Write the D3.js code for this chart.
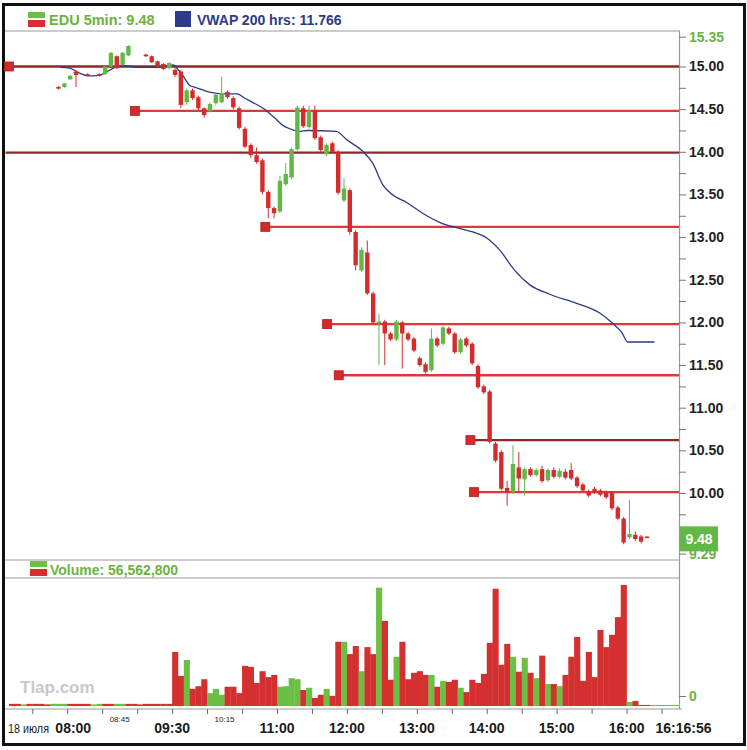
<!DOCTYPE html>
<html>
<head>
<meta charset="utf-8">
<script src="https://cdn.jsdelivr.net/npm/d3@7/dist/d3.min.js"></script>
<style>
body { margin:0; background:#fff; }
svg text { font-family: "Liberation Sans", Arial, sans-serif; }
</style>
</head>
<body>
<script>
// data //{{{
var candleTime=["07:50","07:55","08:00","08:05","08:15","08:25","08:30","08:35","08:40","08:45","08:50","09:05","09:10","09:15","09:20","09:25",
	"09:30","09:35","09:40","09:45","09:50","09:55",
	"10:00","10:05","10:10","10:15","10:20","10:25","10:30","10:35","10:40","10:45","10:50","10:55",
	"11:00","11:05","11:10","11:15","11:20","11:25","11:30","11:35","11:40","11:45","11:50","11:55",
	"12:00","12:05","12:10","12:15","12:20","12:25","12:30","12:35","12:40","12:45","12:50","12:55",
	"13:00","13:05","13:10","13:15","13:20","13:25","13:30","13:35","13:40","13:45","13:50","13:55",
	"14:00","14:05","14:10","14:15","14:20","14:25","14:30","14:35","14:40","14:45","14:50","14:55",
	"15:00","15:05","15:10","15:15","15:20","15:25","15:30","15:35","15:40","15:45","15:50","15:55",
	"16:00","16:05","16:10","16:15"];
var candleOpen=[14.76,14.76,14.85,14.94,14.91,14.91,14.91,15.00,15.12,15.02,15.13,15.14,15.12,15.06,15.03,14.98,
	14.96,14.94,14.58,14.72,14.64,14.51,
	14.48,14.57,14.58,14.70,14.63,14.51,14.27,14.08,13.96,13.90,13.53,13.34,
	13.30,13.62,13.70,14.03,14.51,14.29,14.48,14.17,13.97,14.10,14.00,13.43,
	13.55,13.06,12.61,12.82,12.34,12.00,12.01,11.87,11.80,12.00,11.87,11.81,
	11.58,11.51,11.44,11.81,11.75,11.93,11.87,11.65,11.81,11.75,11.49,11.25,
	11.19,10.58,10.48,10.06,10.01,10.30,10.16,10.28,10.21,10.28,10.15,10.27,
	10.19,10.25,10.27,10.18,10.10,10.02,10.05,10.03,10.01,10.00,9.83,9.70,
	9.48,9.51,9.49,9.49];
var candleHigh=[14.77,14.81,14.90,14.95,14.92,14.92,15.01,15.17,15.13,15.17,15.25,15.15,15.13,15.07,15.04,15.05,
	14.98,14.96,14.74,14.74,14.66,14.52,
	14.58,14.69,14.88,14.72,14.65,14.53,14.29,14.10,14.05,13.92,13.55,13.36,
	13.72,13.87,14.05,14.54,14.54,14.54,14.54,14.19,14.10,14.12,14.02,13.69,
	13.57,13.08,12.88,12.96,12.36,12.10,12.03,11.89,12.03,12.02,11.89,11.83,
	11.60,11.53,11.93,11.83,11.96,11.95,11.89,11.82,11.83,11.77,11.51,11.27,
	11.21,10.60,10.50,10.14,10.56,10.48,10.30,10.30,10.29,10.32,10.29,10.30,
	10.29,10.28,10.35,10.20,10.12,10.04,10.07,10.05,10.03,10.02,9.85,9.72,
	9.92,9.55,9.51,9.49];
var candleLow=[14.73,14.75,14.84,14.76,14.89,14.88,14.90,14.99,14.97,15.01,15.12,15.11,15.04,14.99,14.96,14.97,
	14.88,14.51,14.55,14.61,14.48,14.40,
	14.46,14.55,14.57,14.62,14.50,14.26,14.04,13.93,13.86,13.50,13.22,13.22,
	13.28,13.60,13.68,14.01,14.28,14.27,14.14,13.99,13.95,13.98,13.50,13.41,
	13.03,12.61,12.59,12.32,11.98,11.50,11.50,11.78,11.78,11.46,11.78,11.65,
	11.48,11.40,11.42,11.71,11.73,11.85,11.63,11.63,11.71,11.50,11.22,11.16,
	10.58,10.36,10.03,9.85,9.99,10.00,9.97,10.19,10.19,10.12,10.13,10.17,
	10.17,10.16,10.15,10.06,10.01,9.95,9.99,9.96,9.93,9.80,9.68,9.40,
	9.46,9.44,9.41,9.48];
var candleClose=[14.74,14.80,14.89,14.90,14.90,14.89,15.00,15.16,14.98,15.16,15.24,15.12,15.05,15.00,14.97,15.04,
	14.90,14.55,14.72,14.63,14.51,14.43,
	14.56,14.67,14.69,14.64,14.52,14.28,14.06,13.96,13.88,13.53,13.34,13.28,
	13.66,13.74,14.03,14.52,14.30,14.48,14.16,14.02,14.08,14.00,13.52,13.57,
	13.06,12.67,12.85,12.34,12.00,12.01,11.87,11.80,12.01,11.87,11.80,11.67,
	11.50,11.42,11.81,11.73,11.94,11.87,11.65,11.80,11.73,11.52,11.24,11.18,
	10.60,10.38,10.05,10.01,10.34,10.17,10.28,10.21,10.27,10.14,10.27,10.19,
	10.26,10.18,10.17,10.08,10.03,9.97,10.01,9.98,9.95,9.82,9.70,9.42,
	9.52,9.46,9.43,9.48];

// volume, thousands of shares; up=1 green, up=0 red
var volTime=["07:10","07:15","07:20","07:25","07:30","07:35","07:40","07:45","07:50","07:55",
	"08:00","08:05","08:10","08:15","08:20","08:25","08:30","08:35","08:40","08:45","08:50","08:55",
	"09:00","09:05","09:10","09:15","09:20","09:25",
	"09:30","09:35","09:40","09:45","09:50","09:55",
	"10:00","10:05","10:10","10:15","10:20","10:25","10:30","10:35","10:40","10:45","10:50","10:55",
	"11:00","11:05","11:10","11:15","11:20","11:25","11:30","11:35","11:40","11:45","11:50","11:55",
	"12:00","12:05","12:10","12:15","12:20","12:25","12:30","12:35","12:40","12:45","12:50","12:55",
	"13:00","13:05","13:10","13:15","13:20","13:25","13:30","13:35","13:40","13:45","13:50","13:55",
	"14:00","14:05","14:10","14:15","14:20","14:25","14:30","14:35","14:40","14:45","14:50","14:55",
	"15:00","15:05","15:10","15:15","15:20","15:25","15:30","15:35","15:40","15:45","15:50","15:55",
	"16:00","16:05","16:10","16:15","16:20","16:25","16:30","16:35","16:40"];
var volK=[40,40,30,40,40,40,30,40,40,40,
	40,40,40,40,30,40,40,40,40,40,40,40,
	30,40,40,40,40,40,
	1010,560,860,320,370,500,
	240,320,210,360,360,240,750,730,430,650,540,580,
	360,370,520,500,300,340,150,210,320,190,1200,1200,
	970,1120,650,1100,970,2210,1590,490,920,1200,500,620,
	650,580,580,360,470,450,490,340,260,490,430,600,
	1180,2190,770,1160,920,640,900,620,520,940,410,410,
	370,580,920,1290,470,1010,540,1420,1100,1330,1660,2260,
	75,95,20,20,20,20,20,20,20];
var volUp=[0,0,1,0,0,0,0,1,1,1,
	0,0,0,0,1,1,0,0,1,1,0,0,
	0,0,0,0,0,0,
	0,0,1,0,0,0,
	1,1,1,0,0,0,0,0,0,0,0,0,
	1,1,1,1,0,1,0,0,1,0,0,1,
	0,0,1,0,0,1,0,0,1,0,0,0,
	0,0,1,0,1,0,0,1,0,0,0,0,
	0,0,0,0,1,0,1,0,1,0,1,0,
	1,0,0,0,0,0,0,0,0,0,0,0,
	1,0,0,0,1,1,1,1,1];

var vwapTime=["07:54","08:02","08:11","08:18","08:28","08:34","08:41","08:48","09:02","09:17","09:26","09:31","09:34","09:39","09:45","09:51",
	"10:02","10:14","10:26","10:31","10:39","10:48","10:57","11:05","11:11","11:20","11:26","11:51",
	"12:00","12:14","12:22","12:31","12:37","12:52","13:05","13:20","13:34","13:48",
	"14:00","14:11","14:24","14:37","14:54","15:16","15:37","15:48","15:56","16:01","16:24"];
var vwapValue=[14.99,14.98,14.92,14.89,14.90,14.94,14.99,15.01,14.99,14.99,15.01,15.02,14.98,14.90,14.78,14.75,
	14.70,14.68,14.68,14.64,14.58,14.51,14.41,14.31,14.27,14.24,14.25,14.24,
	14.14,14.00,13.87,13.61,13.52,13.40,13.28,13.17,13.11,13.06,
	12.99,12.85,12.61,12.44,12.33,12.23,12.11,11.99,11.88,11.77,11.77];

var levelPrice=[15.00,14.48,13.99,13.12,11.98,11.38,10.62,10.01];
var levelFrom=["07:10","08:58","07:07","10:50","11:43","11:53","13:46","13:49"];
var levelMarker=[1,1,0,1,1,1,1,1];
var levelStrong=[1,0,1,0,0,0,1,0];

var priceTicks=[15.00,14.50,14.00,13.50,13.00,12.50,12.00,11.50,11.00,10.50,10.00];
var priceMinor=[14.75,14.25,13.75,13.25,12.75,12.25,11.75,11.25,10.75,10.25,9.75];
var dayHigh=15.35, dayLow=9.29, lastPrice=9.48;
var xTickTimes=["07:30","08:00","08:30","09:00","09:30","10:00","10:30","11:00","11:30","12:00","12:30","13:00","13:30","14:00","14:30","15:00","15:30","16:00","16:30"];
var xLabelsBig=["08:00","09:30","11:00","12:00","13:00","14:00","15:00","16:00"];
var xLabelsSmall=["08:45","10:15"];
var dateLabel="18 июля", endLabel="16:16:56";
var legendPrice="EDU 5min: 9.48", legendVwap="VWAP 200 hrs: 11.766", legendVol="Volume: 56,562,800";
//}}}

var W=747, H=750;
var GREEN="#62b846", RED="#d42c2c", NAVY="#2d3a86", GRID="#9a9a9a";
function tm(s) { var p=s.split(":"); return (+p[0])*60+(+p[1])+(p.length>2 ? p[2]/60 : 0); }

var svg=d3.select("body").append("svg").attr("width", W).attr("height", H);
svg.append("rect").attr("width", W).attr("height", H).attr("fill", "#fff");

var x=d3.scaleLinear().domain([tm("07:10"), tm("16:45")]).range([9, 679]);
var y=d3.scaleLinear().domain([10, 15]).range([493, 66.5]);
var yv=d3.scaleLinear().domain([0, 2260]).range([706, 585]);

// frame //{{{
[31, 560, 578].forEach(function(yy) {
	svg.append("line").attr("x1", 4).attr("x2", 680).attr("y1", yy).attr("y2", yy).attr("stroke", GRID).attr("stroke-width", 1.2);
});
svg.append("line").attr("x1", 679.5).attr("x2", 679.5).attr("y1", 31).attr("y2", 709).attr("stroke", GRID).attr("stroke-width", 1.2);
svg.append("line").attr("x1", 4).attr("x2", 682).attr("y1", 709).attr("y2", 709).attr("stroke", GRID).attr("stroke-width", 1.2);
svg.append("rect").attr("x", 3.5).attr("y", 4.5).attr("width", 741).attr("height", 740)
	.attr("fill", "none").attr("stroke", "#111").attr("stroke-width", 3);
//}}}
// levels //{{{
var levels=levelPrice.map(function(p, i) { return {p:p, t:tm(levelFrom[i]), m:levelMarker[i], s:levelStrong[i]}; });
var gl=svg.append("g");
gl.selectAll("line").data(levels).enter().append("line")
	.attr("x1", function(d) { return x(d.t); }).attr("x2", 679)
	.attr("y1", function(d) { return y(d.p); }).attr("y2", function(d) { return y(d.p); })
	.attr("stroke", function(d) { return d.s ? "#8a2a2a" : "#dc3a3a"; })
	.attr("stroke-width", 2.4);
gl.selectAll("rect").data(levels.filter(function(d) { return d.m; })).enter().append("rect")
	.attr("x", function(d) { return x(d.t)-4.5; }).attr("y", function(d) { return y(d.p)-4.5; })
	.attr("width", 9).attr("height", 9).attr("fill", "#d42a2a").attr("stroke", "#b01e1e").attr("stroke-width", 0.8);
//}}}
// vwap //{{{
var vw=vwapTime.map(function(t, i) { return {t:tm(t), v:vwapValue[i]}; });
svg.append("path").datum(vw)
	.attr("d", d3.line().x(function(d) { return x(d.t); }).y(function(d) { return y(d.v); }).curve(d3.curveMonotoneX))
	.attr("fill", "none").attr("stroke", NAVY).attr("stroke-width", 1.3);
//}}}
// candles //{{{
var candles=candleTime.map(function(t, i) {
	return {t:tm(t), o:candleOpen[i], h:candleHigh[i], l:candleLow[i], c:candleClose[i]};
});
function ccol(d) { return d.c>=d.o ? GREEN : RED; }
var gc=svg.append("g");
gc.selectAll("line").data(candles).enter().append("line")
	.attr("x1", function(d) { return x(d.t+2.5); }).attr("x2", function(d) { return x(d.t+2.5); })
	.attr("y1", function(d) { return y(d.h); }).attr("y2", function(d) { return y(d.l); })
	.attr("stroke", ccol).attr("stroke-width", 1);
gc.selectAll("rect").data(candles).enter().append("rect")
	.attr("x", function(d) { return x(d.t+2.5)-2.2; })
	.attr("y", function(d) { return y(Math.max(d.o, d.c)); })
	.attr("width", 4.4)
	.attr("height", function(d) { return Math.max(1.6, Math.abs(y(d.o)-y(d.c))); })
	.attr("fill", ccol);
//}}}
// volume //{{{
var vols=volTime.map(function(t, i) { return {t:tm(t), v:volK[i], u:volUp[i]}; });
svg.append("g").selectAll("rect").data(vols).enter().append("rect")
	.attr("x", function(d) { return x(d.t); })
	.attr("width", function(d) { return x(d.t+5)-x(d.t)+0.3; })
	.attr("y", function(d) { return yv(d.v); })
	.attr("height", function(d) { return yv(0)-yv(d.v); })
	.attr("fill", function(d) { return d.u ? "#6cbf45" : "#d4302f"; });
svg.append("text").attr("x", 20).attr("y", 693).text("Tlap.com")
	.attr("font-size", 17).attr("font-weight", "bold").attr("fill", "#c8c8c8");
//}}}
// axes //{{{
function styleAxis(g, color) {
	g.select(".domain").remove();
	g.selectAll(".tick line").attr("stroke", "#777");
	g.selectAll(".tick text").attr("fill", color).attr("font-size", 14).attr("font-weight", "bold")
		.attr("font-family", "Liberation Sans, Arial, sans-serif");
}
svg.append("g").attr("transform", "translate(679,0)")
	.call(d3.axisRight(y).tickValues(priceMinor).tickSize(7).tickFormat(""))
	.call(styleAxis, "#222");
svg.append("g").attr("transform", "translate(679,0)")
	.call(d3.axisRight(y).tickValues(priceTicks).tickSize(7).tickPadding(3).tickFormat(d3.format(".2f")))
	.call(styleAxis, "#222");
svg.append("g").attr("transform", "translate(679,0)")
	.call(d3.axisRight(y).tickValues([dayHigh, dayLow]).tickSize(7).tickPadding(3).tickFormat(d3.format(".2f")))
	.call(styleAxis, "#6cb33f");
svg.append("g").attr("transform", "translate(679,-10)")
	.call(d3.axisRight(yv).tickValues([0]).tickSize(7).tickPadding(3))
	.call(styleAxis, "#6cb33f");

// last price badge
svg.append("rect").attr("x", 680).attr("y", y(lastPrice)-11).attr("width", 38).attr("height", 25).attr("fill", GREEN);
svg.append("text").attr("x", 699).attr("y", y(lastPrice)+6.5).attr("text-anchor", "middle")
	.attr("font-size", 14).attr("font-weight", "bold").attr("fill", "#fff").text(d3.format(".2f")(lastPrice));

var gx=svg.append("g").attr("transform", "translate(0,709)")
	.call(d3.axisBottom(x).tickValues(xTickTimes.map(tm)).tickSize(5).tickFormat(""));
gx.select(".domain").remove();
gx.selectAll(".tick line").attr("stroke", "#666");

svg.append("g").selectAll("text").data(xLabelsBig).enter().append("text")
	.attr("x", function(d) { return x(tm(d)) + (d=="08:00" ? 6 : 0); }).attr("y", 733).attr("text-anchor", "middle")
	.attr("font-size", 14).attr("font-weight", "bold").attr("fill", "#1a1a1a").text(function(d) { return d; });
svg.append("g").selectAll("text").data(xLabelsSmall).enter().append("text")
	.attr("x", function(d) { return x(tm(d)); }).attr("y", 722).attr("text-anchor", "middle")
	.attr("font-size", 8).attr("fill", "#1a1a1a").text(function(d) { return d; });
svg.append("text").attr("x", 8).attr("y", 733).attr("font-size", 12.5)
	.attr("textLength", 41).attr("lengthAdjust", "spacingAndGlyphs")
	.attr("fill", "#1a1a1a").text(dateLabel);
svg.append("text").attr("x", x.range()[1]+4.5).attr("y", 733).attr("text-anchor", "middle")
	.attr("font-size", 14).attr("font-weight", "bold").attr("fill", "#1a1a1a").text(endLabel);
//}}}
// legends //{{{
function upDownIcon(x0, y0) {
	svg.append("rect").attr("x", x0).attr("y", y0).attr("width", 17).attr("height", 6).attr("fill", "#6cbf45");
	svg.append("rect").attr("x", x0).attr("y", y0+8).attr("width", 17).attr("height", 7).attr("fill", "#d4302f");
}
upDownIcon(28, 12);
svg.append("text").attr("x", 49).attr("y", 25).attr("font-size", 14.5).attr("font-weight", "bold").attr("fill", "#6cb33f").text(legendPrice);
svg.append("rect").attr("x", 175).attr("y", 11).attr("width", 16).attr("height", 16).attr("fill", "#2e3a8c");
svg.append("text").attr("x", 197).attr("y", 25).attr("font-size", 14).attr("font-weight", "bold").attr("fill", NAVY).text(legendVwap);
upDownIcon(30, 561);
svg.append("text").attr("x", 50).attr("y", 575).attr("font-size", 14).attr("font-weight", "bold").attr("fill", "#6cb33f").text(legendVol);
//}}}
</script>
</body>
</html>
